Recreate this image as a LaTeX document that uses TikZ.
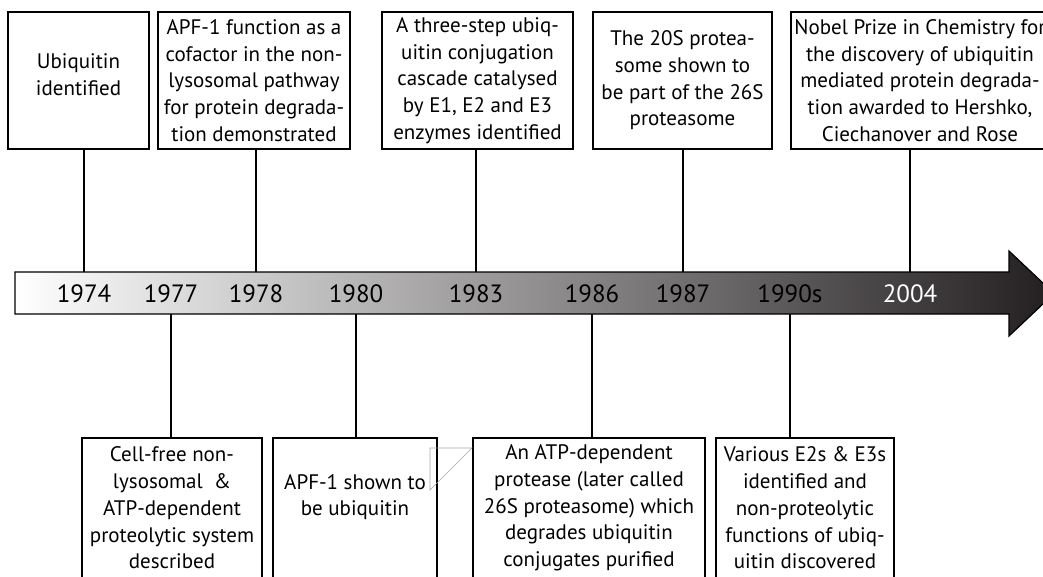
\documentclass[tikz,border=0pt]{standalone}
\usepackage{fontspec}
\setmainfont{PT Sans}
\definecolor{arrowdark}{RGB}{35,31,32}
\begin{document}
\begin{tikzpicture}[x=1pt,y=-1pt,
  box/.style={draw, line width=1.5pt, align=center, inner sep=0pt,
    font=\fontsize{21}{26.7}\selectfont},
  boxtext/.style={align=center, inner sep=0pt, font=\fontsize{21}{26.7}\selectfont},
  year/.style={inner sep=0pt, font=\fontsize{25}{28}\selectfont},
  conn/.style={line width=1.5pt},
  artefact/.style={draw=black!35, line width=0.6pt}]
\useasboundingbox (0,0) rectangle (1043,576);
\clip (0,0) rectangle (1043,576);
% timeline arrow
\shade[left color=white, right color=arrowdark]
  (15,272) -- (1009,272) -- (1009,251) -- (1054,293.5) -- (1009,336) -- (1009,314) -- (15,314) -- cycle;
\draw[line width=1.2pt, line join=miter]
  (15,272) -- (1009,272) -- (1009,251) -- (1054,293.5) -- (1009,336) -- (1009,314) -- (15,314) -- cycle;
\coordinate (atop) at (15,272);
\coordinate (abot) at (15,314);
% years
\node[year] (y74) at (84,294) {1974};
\node[year] (y77) at (171,294) {1977};
\node[year] (y78) at (256,294) {1978};
\node[year] (y80) at (356,294) {1980};
\node[year] (y83) at (476,294) {1983};
\node[year] (y86) at (592,294) {1986};
\node[year] (y87) at (683,294) {1987};
\node[year] (y90) at (790,294) {1990s};
\node[year, text=white] (y04) at (910,294) {2004};
% top boxes
\node[box, minimum width=141pt, minimum height=137pt] (t1) at (78.5,80.5) {};
\node[boxtext] (t1txt) at (78.5,75) {Ubiquitin\\identified};
\node[box, minimum width=192pt, minimum height=137pt] (t2) at (254,80.5)
  {APF-1 function as a\\cofactor in the non-\\lysosomal pathway\\for protein degrada-\\tion demonstrated};
\node[box, minimum width=191pt, minimum height=137pt] (t3) at (477.5,80.5)
  {A three-step ubiq-\\uitin conjugation\\cascade catalysed\\by E1, E2 and E3\\enzymes identified};
\node[box, minimum width=179pt, minimum height=137pt] (t4) at (682.5,80.5)
  {The 20S protea-\\some shown to\\be part of the 26S\\proteasome};
\node[box, minimum width=258pt, minimum height=137pt] (t5) at (920,80.5)
  {Nobel Prize in Chemistry for\\the discovery of ubiquitin\\mediated protein degrada-\\tion awarded to Hershko,\\Ciechanover and Rose};
% bottom boxes
\node[box, minimum width=180pt, minimum height=140pt] (b1) at (172,508)
  {Cell-free non-\\lysosomal \ \&\\ATP-dependent\\proteolytic system\\described};
\node[box, minimum width=164pt, minimum height=140pt] (b2) at (355,508) {};
\node[boxtext] (b2txt) at (355,497) {APF-1 shown to\\be ubiquitin};
\node[box, minimum width=232pt, minimum height=140pt] (b3) at (589,508)
  {An ATP-dependent\\protease (later called\\26S proteasome) which\\degrades ubiquitin\\conjugates purified};
\node[box, minimum width=178pt, minimum height=140pt] (b4) at (805,508)
  {Various E2s \& E3s\\identified and\\non-proteolytic\\functions of ubiq-\\uitin discovered};
% connectors
\draw[conn] (t1.south -| y74) -- (atop -| y74);
\draw[conn] (t2.south -| y78) -- (atop -| y78);
\draw[conn] (t3.south -| y83) -- (atop -| y83);
\draw[conn] (t4.south -| y87) -- (atop -| y87);
\draw[conn] (t5.south -| y04) -- (atop -| y04);
\draw[conn] (abot -| y77) -- (b1.north -| y77);
\draw[conn] (abot -| y80) -- (b2.north -| y80);
\draw[conn] (abot -| y86) -- (b3.north -| y86);
\draw[conn] (abot -| y90) -- (b4.north -| y90);
% small grey triangle
\coordinate (g1) at (430,448);
\coordinate (g2) at (472,448);
\coordinate (g3) at (430,490);
\draw[artefact] (g3) -- (g1) -- (g2) -- cycle;
\end{tikzpicture}
\end{document}
